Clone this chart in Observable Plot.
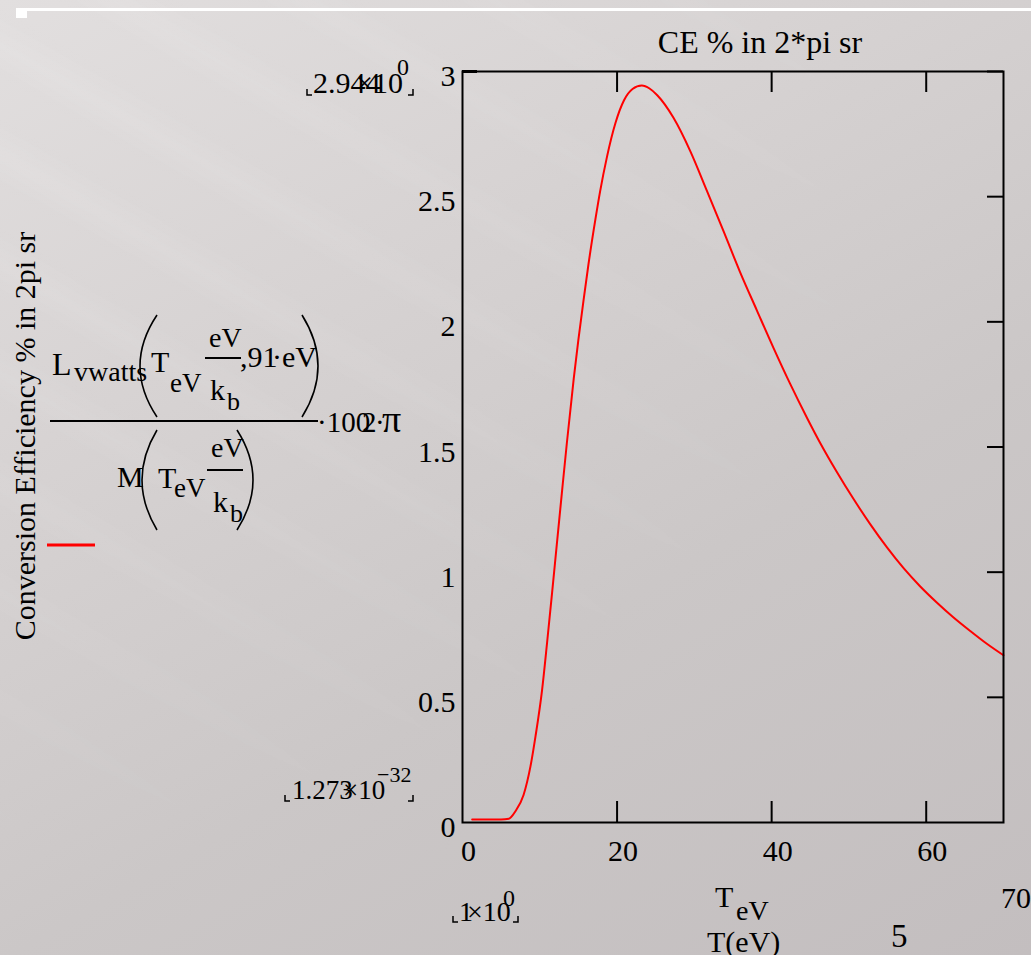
<!DOCTYPE html>
<html>
<head>
<meta charset="utf-8">
<script src="https://cdn.jsdelivr.net/npm/d3@7"></script>
<script src="https://cdn.jsdelivr.net/npm/@observablehq/plot@0.6"></script>
<style>
html, body { margin: 0; padding: 0; width: 1031px; height: 955px; overflow: hidden; }
body {
  position: relative;
  background: linear-gradient(150deg, #e2dfdf 0%, #d7d3d3 30%, #cbc7c7 62%, #c3bebf 100%);
  font-family: "Liberation Serif", serif;
}
#streaks {
  position: absolute; left: 0; top: 0; width: 1031px; height: 955px;
  background: repeating-linear-gradient(30deg, rgba(255,255,255,0) 0px, rgba(255,255,255,0.11) 28px, rgba(255,255,255,0) 60px, rgba(255,255,255,0) 95px);
  -webkit-mask-image: radial-gradient(ellipse at 0% 15%, black 0%, rgba(0,0,0,0.5) 35%, transparent 70%);
  mask-image: radial-gradient(ellipse at 0% 15%, black 0%, rgba(0,0,0,0.5) 35%, transparent 70%);
}
#topline { position: absolute; left: 16px; top: 8px; width: 1015px; height: 3px; background: #ffffff; }
#topsq { position: absolute; left: 16px; top: 11px; width: 11px; height: 7px; background: #ffffff; }
#chart { position: absolute; left: 0; top: 0; }
</style>
</head>
<body>
<div id="streaks"></div>
<div id="topline"></div>
<div id="topsq"></div>
<div id="chart"></div>
<script>
// ---- data ----
const tempEV = [1.25, 2, 3, 4, 5, 6.0, 6.85, 7.9, 8.8, 9.45, 10.3, 10.95, 11.6, 12.2, 12.9, 13.5, 14.4, 15.0, 15.7, 16.3, 17.2, 17.8, 18.7, 19.8, 20.9, 22.0, 23.2, 24.2, 25.2, 27.3, 29.5, 31.6, 33.8, 35.9, 38.1, 40.25, 42.4, 44.6, 46.3, 48.4, 50.6, 52.75, 54.9, 57.1, 59.2, 61.4, 63.5, 65.7, 67.8, 70];
const cePercent = [0.012, 0.012, 0.012, 0.012, 0.012, 0.015, 0.045, 0.11, 0.225, 0.345, 0.53, 0.72, 0.92, 1.11, 1.33, 1.515, 1.775, 1.93, 2.095, 2.23, 2.41, 2.52, 2.66, 2.795, 2.885, 2.93, 2.944, 2.932, 2.905, 2.815, 2.68, 2.525, 2.36, 2.2, 2.045, 1.895, 1.752, 1.615, 1.515, 1.402, 1.292, 1.192, 1.10, 1.015, 0.944, 0.878, 0.82, 0.765, 0.715, 0.668];
const xDomain = [0, 70];
const yDomain = [0, 3];
const xTickLabels = [0, 20, 40, 60];
const xTickMarks = [20, 40, 60];
const yTickLabels = [0, 0.5, 1, 1.5, 2, 2.5, 3];
const yTickMarksRight = [0.5, 1, 1.5, 2, 2.5, 3];
const yTickMarksLeft = [3];
const titleText = "CE % in 2*pi sr";
const yLabelText = "Conversion Efficiency % in 2pi sr";

const data = tempEV.map((t, i) => ({T: t, ce: cePercent[i]}));

const W = 1031, H = 955;
const mL = 462, mR = 28, mT = 71, mB = 133;
const pw = W - mL - mR, ph = H - mT - mB;
const FONT = "Liberation Serif";

const chart = Plot.plot({
  width: W,
  height: H,
  marginLeft: mL,
  marginRight: mR,
  marginTop: mT,
  marginBottom: mB,
  x: {domain: xDomain},
  y: {domain: yDomain},
  style: {background: "transparent", fontFamily: FONT, fontSize: "30px", color: "black", overflow: "visible"},
  marks: [
    Plot.line(data, {x: "T", y: "ce", stroke: "#ff0000", strokeWidth: 2, curve: "monotone-x"}),
    Plot.ruleX(xTickMarks, {stroke: "black", strokeWidth: 2, insetTop: ph - 21}),
    Plot.ruleX(xTickMarks, {stroke: "black", strokeWidth: 2, insetBottom: ph - 21}),
    Plot.ruleY(yTickMarksRight, {stroke: "black", strokeWidth: 2, insetLeft: pw - 16}),
    Plot.ruleY(yTickMarksLeft, {stroke: "black", strokeWidth: 3, insetRight: pw - 15}),
    Plot.frame({stroke: "black", strokeWidth: 2}),
    Plot.axisX({ticks: xTickLabels, tickSize: 0, tickPadding: 17, dx: 6, label: null, tickFormat: d => String(d), fontSize: 30, fill: "black"}),
    Plot.axisY({ticks: yTickLabels, tickSize: 0, tickPadding: 7, dy: 5, label: null, tickFormat: d => String(d), fontSize: 30, fill: "black"})
  ]
});
document.getElementById("chart").appendChild(chart);

// ---- annotations (Mathcad-style labels) ----
const svg = d3.select(chart);
const g = svg.append("g").attr("font-family", FONT).attr("fill", "black");
function txt(s, x, y, size, anchor) {
  return g.append("text").attr("x", x).attr("y", y).attr("font-size", size)
    .attr("text-anchor", anchor || "start").text(s);
}
function corner(x, y, side) {
  const dx = side === "left" ? 5 : -5;
  g.append("path").attr("d", `M${x},${y - 6} L${x},${y} L${x + dx},${y}`)
    .attr("fill", "none").attr("stroke", "black").attr("stroke-width", 1.5);
}
function paren(x0, x1, y0, y1, side) {
  const ym = (y0 + y1) / 2;
  let d;
  if (side === "left") d = `M${x1},${y0} Q${2 * x0 - x1},${ym} ${x1},${y1}`;
  else d = `M${x0},${y0} Q${2 * x1 - x0},${ym} ${x0},${y1}`;
  g.append("path").attr("d", d).attr("fill", "none").attr("stroke", "black").attr("stroke-width", 1.6);
}
function hline(x0, x1, y, w) {
  g.append("line").attr("x1", x0).attr("x2", x1).attr("y1", y).attr("y2", y)
    .attr("stroke", "black").attr("stroke-width", w || 2);
}

// title
txt(titleText, 760, 53, 32, "middle");

// y label (rotated)
g.append("text").attr("transform", "translate(35,436) rotate(-90)")
  .attr("text-anchor", "middle").attr("font-size", 30).text(yLabelText);

// upper limit 2.944×10^0
corner(307, 95, "left");
txt("2.944", 313, 93, 30);
txt("×10", 356, 93, 30);
txt("0", 397, 75, 24);
corner(413, 95, "right");

// lower limit 1.273×10^-32
corner(285, 801, "left");
txt("1.273", 292, 799, 27);
txt("×10", 343, 799, 27);
txt("−32", 377, 782, 22);
corner(413, 801, "right");

// x lower limit 1×10^0
corner(453, 922, "left");
txt("1", 459, 921, 28);
txt("×10", 467, 921, 28);
txt("0", 503, 906, 24);
corner(518, 922, "right");

// x variable name and label
txt("T", 715, 907, 30);
txt("eV", 736, 920, 28);
txt("T(eV)", 707, 952, 30);
txt("70", 1001, 908, 30);
txt("5", 891, 947, 33);

// formula: numerator
txt("L", 52, 375, 32);
txt("vwatts", 74, 381, 28);
paren(140, 157, 315, 417, "left");
txt("T", 151, 372, 30);
txt("eV", 170, 392, 27);
txt("eV", 209, 347, 28);
hline(205, 241, 358, 2);
txt("k", 210, 400, 30);
txt("b", 227, 410, 26);
txt(",91", 240, 367, 30);
txt("·eV", 272, 367, 30);
paren(302, 318, 315, 417, "right");

// main fraction bar and factor ·100·2·π
hline(50, 318, 421, 2);
txt("·100", 317, 432, 29);
txt("2", 362, 432, 29);
txt("·", 375, 432, 29);
txt("π", 382, 432, 38);

// denominator
txt("M", 117, 487, 30);
paren(142, 157, 430, 530, "left");
txt("T", 158, 488, 30);
txt("eV", 174, 497, 27);
txt("eV", 211, 457, 28);
hline(207, 243, 470, 2);
txt("k", 213, 512, 30);
txt("b", 230, 522, 26);
paren(237, 253, 430, 530, "right");

// legend swatch
g.append("line").attr("x1", 47).attr("x2", 95).attr("y1", 545).attr("y2", 545)
  .attr("stroke", "#ff0000").attr("stroke-width", 3);
</script>
</body>
</html>
